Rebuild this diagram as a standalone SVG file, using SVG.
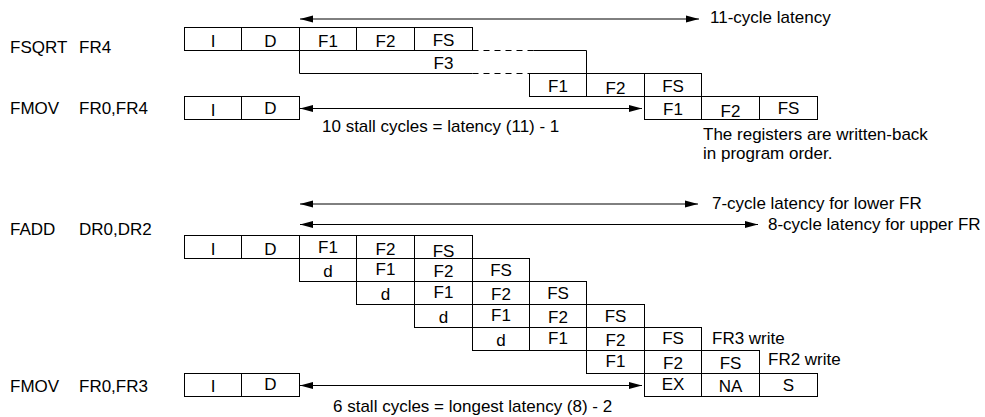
<svg xmlns="http://www.w3.org/2000/svg" width="985" height="417" viewBox="0 0 985 417">
<defs>
<style>
text{font-family:"Liberation Sans",Arial,Helvetica,sans-serif;font-size:17px;fill:#000}
.c{text-anchor:middle}
.b{fill:#fff;stroke:#000;stroke-width:1}
.l{fill:none;stroke:#000;stroke-width:1}
.d{fill:none;stroke:#000;stroke-width:1;stroke-dasharray:6 5}
.a{fill:none;stroke:#000;stroke-width:1;marker-start:url(#ah);marker-end:url(#ah)}
</style>
<marker id="ah" markerUnits="userSpaceOnUse" markerWidth="13" markerHeight="8" viewBox="0 0 13 8" refX="13" refY="4" orient="auto-start-reverse">
<path d="M0,0.5 L13,4 L0,7.5 z" fill="#000"/>
</marker>
</defs>
<rect width="985" height="417" fill="#fff"/>

<!-- labels -->
<g id="labels">
<text x="10" y="53">FSQRT</text><text x="79" y="53">FR4</text>
<text x="10" y="114">FMOV</text><text x="79" y="114">FR0,FR4</text>
<text x="10" y="235">FADD</text><text x="79" y="235">DR0,DR2</text>
<text x="10" y="392">FMOV</text><text x="79" y="392">FR0,FR3</text>
</g>

<!-- top section -->
<g id="fsqrt">
<rect class="b" x="184.5" y="27.5" width="57" height="23"/><text class="c" x="213" y="47">I</text>
<rect class="b" x="241.5" y="27.5" width="58" height="23"/><text class="c" x="270.5" y="47">D</text>
<rect class="b" x="299.5" y="27.5" width="57" height="23"/><text class="c" x="328" y="47">F1</text>
<rect class="b" x="356.5" y="27.5" width="58" height="23"/><text class="c" x="385.5" y="47">F2</text>
<rect class="b" x="414.5" y="27.5" width="58" height="23"/><text class="c" x="443.5" y="46">FS</text>
</g>
<g id="f3">
<path class="l" d="M299.5,50.5 V73.5 H472.5"/>
<path class="d" d="M472.5,50.5 H533.5"/>
<path class="d" d="M472.5,73.5 H529.5"/>
<path class="l" d="M533.5,50.5 H586.5 V73.5"/>
<text class="c" x="443.5" y="69">F3</text>
</g>
<g id="fsqrt-tail">
<rect class="b" x="529.5" y="73.5" width="57" height="23"/><text class="c" x="558" y="92">F1</text>
<rect class="b" x="586.5" y="73.5" width="58" height="23"/><text class="c" x="615.5" y="94">F2</text>
<rect class="b" x="644.5" y="73.5" width="57" height="23"/><text class="c" x="673" y="92">FS</text>
</g>
<g id="fmov1">
<rect class="b" x="184.5" y="96.5" width="57" height="23"/><text class="c" x="213" y="116">I</text>
<rect class="b" x="241.5" y="96.5" width="58" height="23"/><text class="c" x="270.5" y="114">D</text>
<rect class="b" x="644.5" y="96.5" width="57" height="23"/><text class="c" x="673" y="115">F1</text>
<rect class="b" x="701.5" y="96.5" width="58" height="23"/><text class="c" x="730.5" y="117">F2</text>
<rect class="b" x="759.5" y="96.5" width="58" height="23"/><text class="c" x="788.5" y="114">FS</text>
</g>

<!-- bottom section -->
<g id="fadd-r1">
<rect class="b" x="184.5" y="235.5" width="57" height="23"/><text class="c" x="213" y="255">I</text>
<rect class="b" x="241.5" y="235.5" width="58" height="23"/><text class="c" x="270.5" y="255">D</text>
<rect class="b" x="299.5" y="235.5" width="57" height="23"/><text class="c" x="328" y="253">F1</text>
<rect class="b" x="356.5" y="235.5" width="58" height="23"/><text class="c" x="385.5" y="255">F2</text>
<rect class="b" x="414.5" y="235.5" width="58" height="23"/><text class="c" x="443.5" y="257">FS</text>
</g>
<g id="fadd-r2">
<rect class="b" x="299.5" y="258.5" width="57" height="23"/><text class="c" x="328" y="277">d</text>
<rect class="b" x="356.5" y="258.5" width="58" height="23"/><text class="c" x="385.5" y="275">F1</text>
<rect class="b" x="414.5" y="258.5" width="58" height="23"/><text class="c" x="443.5" y="277">F2</text>
<rect class="b" x="472.5" y="258.5" width="57" height="23"/><text class="c" x="501" y="276">FS</text>
</g>
<g id="fadd-r3">
<rect class="b" x="356.5" y="281.5" width="58" height="23"/><text class="c" x="385.5" y="300">d</text>
<rect class="b" x="414.5" y="281.5" width="58" height="23"/><text class="c" x="443.5" y="298">F1</text>
<rect class="b" x="472.5" y="281.5" width="57" height="23"/><text class="c" x="501" y="300">F2</text>
<rect class="b" x="529.5" y="281.5" width="57" height="23"/><text class="c" x="558" y="299">FS</text>
</g>
<g id="fadd-r4">
<rect class="b" x="414.5" y="304.5" width="58" height="23"/><text class="c" x="443.5" y="323">d</text>
<rect class="b" x="472.5" y="304.5" width="57" height="23"/><text class="c" x="501" y="321">F1</text>
<rect class="b" x="529.5" y="304.5" width="57" height="23"/><text class="c" x="558" y="323">F2</text>
<rect class="b" x="586.5" y="304.5" width="58" height="23"/><text class="c" x="615.5" y="322">FS</text>
</g>
<g id="fadd-r5">
<rect class="b" x="472.5" y="327.5" width="57" height="23"/><text class="c" x="501" y="346">d</text>
<rect class="b" x="529.5" y="327.5" width="57" height="23"/><text class="c" x="558" y="344">F1</text>
<rect class="b" x="586.5" y="327.5" width="58" height="23"/><text class="c" x="615.5" y="346">F2</text>
<rect class="b" x="644.5" y="327.5" width="57" height="23"/><text class="c" x="673" y="344">FS</text>
<text x="712" y="344">FR3 write</text>
</g>
<g id="fadd-r6">
<rect class="b" x="586.5" y="350.5" width="58" height="23"/><text class="c" x="615.5" y="367">F1</text>
<rect class="b" x="644.5" y="350.5" width="57" height="23"/><text class="c" x="673" y="369">F2</text>
<rect class="b" x="701.5" y="350.5" width="58" height="23"/><text class="c" x="730.5" y="369">FS</text>
<text x="768" y="365">FR2 write</text>
</g>
<g id="fmov2">
<rect class="b" x="184.5" y="373.5" width="57" height="23"/><text class="c" x="213" y="392">I</text>
<rect class="b" x="241.5" y="373.5" width="58" height="23"/><text class="c" x="270.5" y="390">D</text>
<rect class="b" x="644.5" y="373.5" width="57" height="23"/><text class="c" x="673" y="390">EX</text>
<rect class="b" x="701.5" y="373.5" width="58" height="23"/><text class="c" x="730.5" y="392">NA</text>
<rect class="b" x="759.5" y="373.5" width="58" height="23"/><text class="c" x="788.5" y="391">S</text>
</g>

<!-- connectors -->
<g id="connectors">
<path class="a" d="M300,19 H699"/>
<path class="a" d="M300,108.5 H642"/>
<path class="a" d="M300,204 H698"/>
<path class="a" d="M300,224.5 H758"/>
<path class="a" d="M300,385.5 H642"/>
</g>

<g id="notes">
<text x="710" y="23">11-cycle latency</text>
<text x="322" y="132">10 stall cycles = latency (11) - 1</text>
<text x="703" y="140">The registers are written-back</text>
<text x="703" y="159">in program order.</text>
<text x="712" y="209">7-cycle latency for lower FR</text>
<text x="768" y="230">8-cycle latency for upper FR</text>
<text x="333" y="412">6 stall cycles = longest latency (8) - 2</text>
</g>
</svg>
